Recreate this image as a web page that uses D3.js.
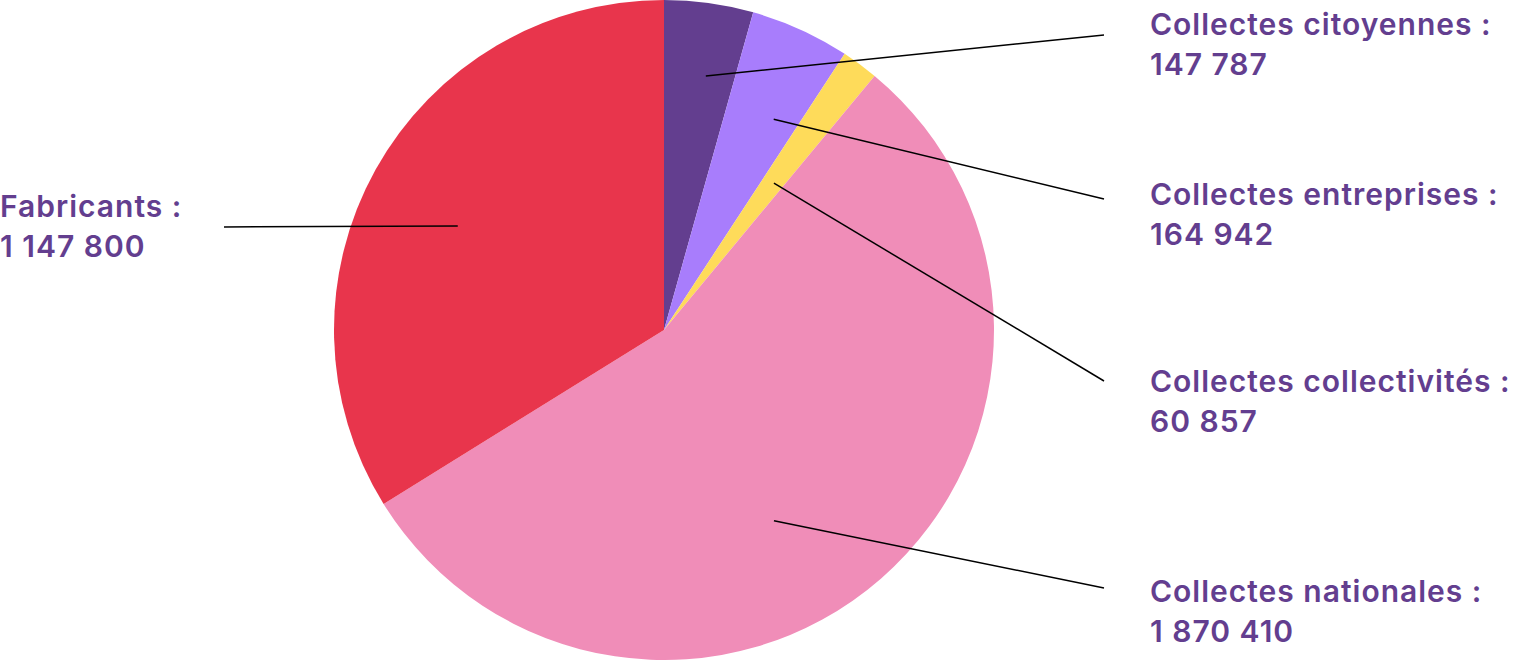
<!DOCTYPE html>
<html><head><meta charset="utf-8">
<script src="https://cdn.jsdelivr.net/npm/d3@7"></script>
<style>html,body{margin:0;padding:0;background:#fff;}svg{display:block;}</style>
</head><body>
<svg id="chart" width="1536" height="660"></svg>
<script>
// Data
const categories = ["Collectes citoyennes", "Collectes entreprises", "Collectes collectivités", "Collectes nationales", "Fabricants"];
const values = [147787, 164942, 60857, 1870410, 1147800];
const valueLabels = ["147 787", "164 942", "60 857", "1 870 410", "1 147 800"];

// Styling / layout
const colors = ["#633e8f", "#a87dfc", "#fedb5a", "#f08db8", "#e8354c"];
const textColor = "#633e8f";
// anchor inside slice: fraction of slice angle, fraction of radius
const anchorFrac = [0.596, 0.675, 0.56, 0.556, 0.481];
const anchorRad = [0.78, 0.72, 0.556, 0.667, 0.70];
// label layout: side, text x, first baseline, leader end x, leader end y
const labelLayout = [
  {side: "right", x: 1150, y: 35, lx: 1104, ly: 35},
  {side: "right", x: 1150, y: 205, lx: 1104, ly: 199},
  {side: "right", x: 1150, y: 392, lx: 1104, ly: 381},
  {side: "right", x: 1150, y: 602, lx: 1104, ly: 588},
  {side: "left", x: 0, y: 217, lx: 224, ly: 227}
];

const width = 1536, height = 660;
const cx = 664, cy = 330, R = 330;
const svg = d3.select("#chart");
const g = svg.append("g").attr("transform", `translate(${cx},${cy})`);

const pie = d3.pie().sort(null).value(d => d);
const arcs = pie(values);
const arc = d3.arc().innerRadius(0).outerRadius(R);

g.selectAll("path.slice").data(arcs).join("path")
  .attr("class", "slice")
  .attr("d", arc)
  .attr("fill", (d, i) => colors[i]);

// leader lines
arcs.forEach((d, i) => {
  const a = d.startAngle + (d.endAngle - d.startAngle) * anchorFrac[i];
  const r = R * anchorRad[i];
  const px = cx + r * Math.sin(a), py = cy - r * Math.cos(a);
  const L = labelLayout[i];
  svg.append("line")
    .attr("x1", px).attr("y1", py)
    .attr("x2", L.lx).attr("y2", L.ly)
    .attr("stroke", "#000").attr("stroke-width", 1.5);
  const t = svg.append("text")
    .attr("x", L.x).attr("y", L.y)
    .attr("fill", textColor)
    .attr("font-family", "Inter, 'Noto Sans', sans-serif")
    .attr("font-weight", 600)
    .attr("font-size", 30)
    .attr("letter-spacing", 1);
  t.append("tspan").attr("x", L.x).attr("y", L.y).text(categories[i] + " :");
  t.append("tspan").attr("x", L.x).attr("y", L.y + 40).text(valueLabels[i]);
});
</script>
</body></html>
